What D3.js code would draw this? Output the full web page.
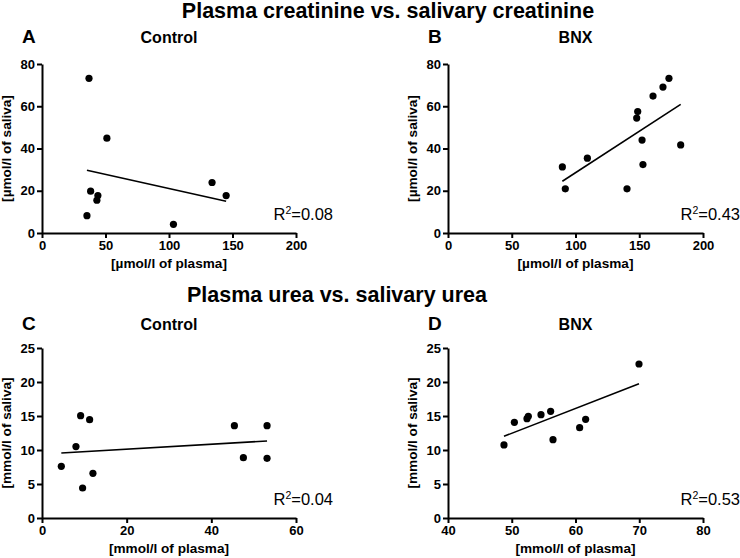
<!DOCTYPE html>
<html><head><meta charset="utf-8">
<script src="https://cdn.jsdelivr.net/npm/d3@7/dist/d3.min.js"></script>
<style>
body{margin:0;background:#fff;}
text{font-family:"Liberation Sans",Arial,sans-serif;fill:#000;}
</style></head>
<body><svg id="c" width="740" height="558"></svg>
<script>
// Panel A: Control, creatinine (µmol/l)
const ctrlCreatPlasma = [37, 51.1, 38.3, 44.0, 43.2, 35.4, 103.5, 133.9, 145];
const ctrlCreatSaliva = [73.2, 44.9, 19.8, 17.7, 15.5, 8.2, 4.1, 23.9, 17.7];
const ctrlCreatFitX = [35.4, 145];
const ctrlCreatFitY = [29.7, 15.0];
// Panel B: BNX, creatinine
const bnxCreatPlasma = [89.7, 92.0, 109.3, 140.4, 148.8, 148.0, 152.2, 152.9, 160.8, 168.6, 173.3, 182.5];
const bnxCreatSaliva = [31.3, 20.9, 35.4, 20.9, 57.5, 54.4, 44.0, 32.4, 64.8, 69.1, 73.2, 41.7];
const bnxCreatFitX = [89.7, 182.5];
const bnxCreatFitY = [24.5, 60.9];
// Panel C: Control, urea (mmol/l)
const ctrlUreaPlasma = [4.56, 8.02, 9.12, 11.25, 9.59, 12.03, 45.45, 47.57, 53.16, 53.16];
const ctrlUreaSaliva = [7.6, 10.5, 15.05, 14.46, 4.41, 6.57, 13.58, 8.87, 13.58, 8.77];
const ctrlUreaFitX = [4.56, 53.16];
const ctrlUreaFitY = [9.56, 11.32];
// Panel D: BNX, urea
const bnxUreaPlasma = [48.78, 50.41, 52.39, 52.60, 54.59, 56.10, 56.47, 60.65, 61.59, 69.96];
const bnxUreaSaliva = [10.74, 14.07, 14.61, 14.95, 15.2, 15.69, 11.52, 13.28, 14.51, 22.65];
const bnxUreaFitX = [48.78, 69.96];
const bnxUreaFitY = [12.01, 19.75];

const creatXTicks = [0, 50, 100, 150, 200];
const creatYTicks = [0, 20, 40, 60, 80];
const ureaCtrlXTicks = [0, 20, 40, 60];
const ureaBnxXTicks = [40, 50, 60, 70, 80];
const ureaYTicks = [0, 5, 10, 15, 20, 25];
const panelLetters = ["A", "B", "C", "D"];
const groupNames = ["Control", "BNX", "Control", "BNX"];
const r2Values = ["0.08", "0.43", "0.04", "0.53"];
const mainTitles = ["Plasma creatinine vs. salivary creatinine", "Plasma urea vs. salivary urea"];

const svg = d3.select("#c");

svg.append("text").attr("x", 388).attr("y", 18).attr("text-anchor", "middle")
  .style("font-weight", "bold").style("font-size", "21.5px").text(mainTitles[0]);
svg.append("text").attr("x", 337).attr("y", 302).attr("text-anchor", "middle")
  .style("font-weight", "bold").style("font-size", "21.5px").text(mainTitles[1]);

const panels = [
  {x0: 42, x1: 296, yb: 233, yt: 64, xd: [0, 200], yd: [0, 80], xt: creatXTicks, yt_: creatYTicks,
   px: ctrlCreatPlasma, py: ctrlCreatSaliva, fx: ctrlCreatFitX, fy: ctrlCreatFitY,
   xl: "[µmol/l of plasma]", yl: "[µmol/l of saliva]", top: 43},
  {x0: 448, x1: 703, yb: 233, yt: 64, xd: [0, 200], yd: [0, 80], xt: creatXTicks, yt_: creatYTicks,
   px: bnxCreatPlasma, py: bnxCreatSaliva, fx: bnxCreatFitX, fy: bnxCreatFitY,
   xl: "[µmol/l of plasma]", yl: "[µmol/l of saliva]", top: 43},
  {x0: 42, x1: 296, yb: 518, yt: 348, xd: [0, 60], yd: [0, 25], xt: ureaCtrlXTicks, yt_: ureaYTicks,
   px: ctrlUreaPlasma, py: ctrlUreaSaliva, fx: ctrlUreaFitX, fy: ctrlUreaFitY,
   xl: "[mmol/l of plasma]", yl: "[mmol/l of saliva]", top: 330},
  {x0: 448, x1: 703, yb: 518, yt: 348, xd: [40, 80], yd: [0, 25], xt: ureaBnxXTicks, yt_: ureaYTicks,
   px: bnxUreaPlasma, py: bnxUreaSaliva, fx: bnxUreaFitX, fy: bnxUreaFitY,
   xl: "[mmol/l of plasma]", yl: "[mmol/l of saliva]", top: 330}
];

panels.forEach((p, i) => {
  const x = d3.scaleLinear().domain(p.xd).range([p.x0, p.x1]);
  const y = d3.scaleLinear().domain(p.yd).range([p.yb, p.yt]);
  const g = svg.append("g");

  const xa = g.append("g").attr("transform", `translate(0,${p.yb})`)
    .call(d3.axisBottom(x).tickValues(p.xt).tickSize(5).tickSizeOuter(0).tickPadding(3));
  const ya = g.append("g").attr("transform", `translate(${p.x0},0)`)
    .call(d3.axisLeft(y).tickValues(p.yt_).tickSize(5).tickSizeOuter(0).tickPadding(2));
  [xa, ya].forEach(a => {
    a.select(".domain").attr("stroke", "#000").attr("stroke-width", 2);
    a.selectAll(".tick line").attr("stroke", "#000").attr("stroke-width", 2);
    a.selectAll(".tick text").style("font-size", "13px").style("font-weight", "bold")
      .attr("fill", "#000").style("font-family", '"Liberation Sans",Arial,sans-serif');
  });

  // fit line
  g.append("line")
    .attr("x1", x(p.fx[0])).attr("y1", y(p.fy[0]))
    .attr("x2", x(p.fx[1])).attr("y2", y(p.fy[1]))
    .attr("stroke", "#000").attr("stroke-width", 1.6);

  // points
  g.selectAll("circle.pt").data(p.px.map((v, k) => [v, p.py[k]])).enter()
    .append("circle").attr("class", "pt")
    .attr("cx", d => x(d[0])).attr("cy", d => y(d[1])).attr("r", 3.6).attr("fill", "#000");

  const cx = (p.x0 + p.x1) / 2;
  g.append("text").attr("x", p.x0 - 20).attr("y", p.top)
    .style("font-weight", "bold").style("font-size", "19px").text(panelLetters[i]);
  g.append("text").attr("x", cx).attr("y", p.top).attr("text-anchor", "middle")
    .style("font-weight", "bold").style("font-size", "16px").text(groupNames[i]);
  g.append("text").attr("x", cx).attr("y", p.yb + 35).attr("text-anchor", "middle")
    .style("font-weight", "bold").style("font-size", "13.6px").text(p.xl);
  g.append("text").attr("transform", `translate(${p.x0 - 31},${(p.yb + p.yt) / 2}) rotate(-90)`)
    .attr("text-anchor", "middle")
    .style("font-weight", "bold").style("font-size", "13.6px").text(p.yl);
  const t = g.append("text").attr("x", p.x1 + 37).attr("y", p.yb - 13).attr("text-anchor", "end")
    .style("font-size", "16.5px");
  t.append("tspan").text("R");
  t.append("tspan").attr("dy", -6).style("font-size", "10.5px").text("2");
  t.append("tspan").attr("dy", 6).text("=" + r2Values[i]);
});
</script></body></html>
